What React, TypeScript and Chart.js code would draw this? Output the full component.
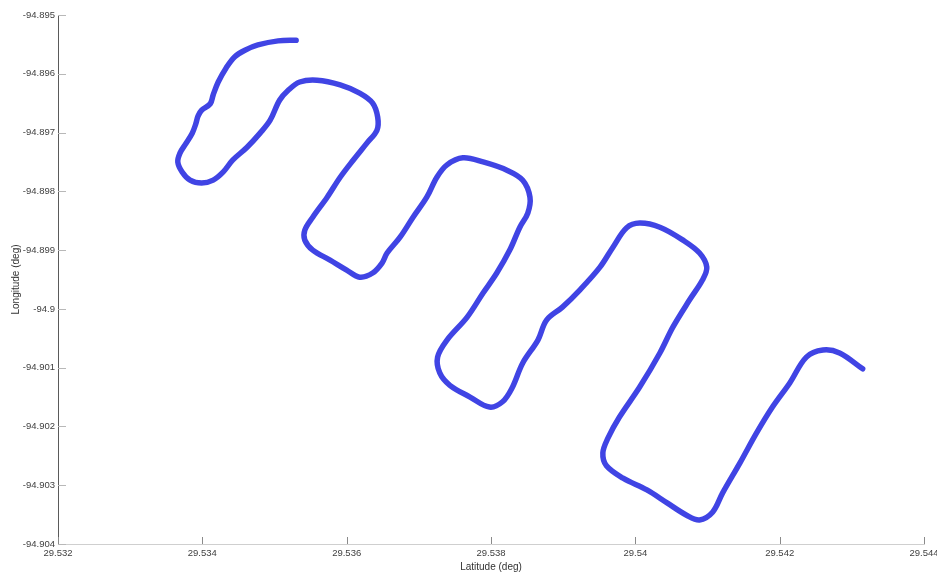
import React, { useEffect, useRef } from "react";
import { Chart, registerables } from "chart.js";

Chart.register(...registerables);

// GPS track: latitude / longitude pairs (degrees)
const latitude: number[] = [
  29.5353, 29.53505, 29.53477, 29.53459, 29.53445, 29.53433, 29.53422, 29.53415,
  29.53411, 29.53399, 29.53394, 29.53391, 29.53386, 29.53376, 29.53369, 29.53366,
  29.53372, 29.53383, 29.53399, 29.53415, 29.53429, 29.53442, 29.53462, 29.5348,
  29.53494, 29.53507, 29.53519, 29.53535, 29.53559, 29.53591, 29.53618, 29.53636,
  29.53643, 29.53642, 29.53628, 29.53609, 29.53591, 29.53573, 29.53553, 29.53542,
  29.53542, 29.53553, 29.53577, 29.536, 29.53618, 29.53636, 29.53649, 29.53656,
  29.53674, 29.53692, 29.53711, 29.53725, 29.53739, 29.53761, 29.53789, 29.53822,
  29.53844, 29.53854, 29.53851, 29.5384, 29.53826, 29.53808, 29.53789, 29.53767,
  29.53739, 29.53726, 29.53729, 29.53743, 29.53771, 29.53798, 29.53816, 29.53829,
  29.53844, 29.53865, 29.53877, 29.53899, 29.53923, 29.53951, 29.53969, 29.53988,
  29.54006, 29.54034, 29.54066, 29.54089, 29.54099, 29.54093, 29.54075, 29.54052,
  29.54034, 29.54006, 29.53978, 29.53962, 29.53955, 29.5396, 29.53983, 29.54016,
  29.54044, 29.54071, 29.54089, 29.54107, 29.54121, 29.54145, 29.54168, 29.5419,
  29.54214, 29.54237, 29.5426, 29.54283, 29.54315,
];

const longitude: number[] = [
  -94.89543, -94.89544, -94.89551, -94.8956, -94.89571, -94.8959, -94.89614, -94.89636,
  -94.89651, -94.89662, -94.89672, -94.89685, -94.89701, -94.89721, -94.89735, -94.8975,
  -94.89767, -94.89781, -94.89786, -94.89781, -94.89767, -94.89747, -94.89725, -94.89701,
  -94.89679, -94.89645, -94.89628, -94.89614, -94.89611, -94.89619, -94.89633, -94.8965,
  -94.89674, -94.89696, -94.89718, -94.89747, -94.89776, -94.8981, -94.89844, -94.89866,
  -94.89883, -94.899, -94.89917, -94.89934, -94.89946, -94.89939, -94.89922, -94.89905,
  -94.89878, -94.89844, -94.8981, -94.89776, -94.89755, -94.89743, -94.8975, -94.89764,
  -94.89781, -94.8981, -94.89837, -94.89861, -94.899, -94.89939, -94.89973, -94.90014,
  -94.90053, -94.90082, -94.90109, -94.9013, -94.9015, -94.90167, -94.90158, -94.90135,
  -94.90092, -94.90053, -94.90019, -94.89997, -94.89968, -94.89929, -94.89895, -94.89862,
  -94.89854, -94.89861, -94.89883, -94.89905, -94.89929, -94.89951, -94.89985, -94.90031,
  -94.90075, -94.90133, -94.90184, -94.9022, -94.90245, -94.90267, -94.90288, -94.90308,
  -94.9033, -94.90351, -94.90359, -94.90346, -94.90313, -94.90262, -94.90211, -94.90167,
  -94.90126, -94.90082, -94.9007, -94.90075, -94.90102,
];

const xTickRange = { min: 29.532, max: 29.544, step: 0.002 };
const yTickRange = { min: -94.904, max: -94.895, step: 0.001 };

const xTitle = "Latitude (deg)";
const yTitle = "Longitude (deg)";

const FONT = "'Liberation Sans', Arial, Helvetica, sans-serif";

const trimNumber = (v: number | string) => String(Number(Number(v).toFixed(6)));

// Tick marks drawn inward from the axis lines
const inwardTicks = {
  id: "inwardTicks",
  afterDraw(chart: any) {
    const { ctx, chartArea, scales } = chart;
    ctx.save();
    ctx.lineWidth = 1;
    ctx.strokeStyle = "#b8b8b8";
    scales.y.ticks.forEach((t: any) => {
      const py = Math.round(scales.y.getPixelForValue(t.value)) + 0.5;
      ctx.beginPath();
      ctx.moveTo(chartArea.left, py);
      ctx.lineTo(chartArea.left + 8, py);
      ctx.stroke();
    });
    ctx.strokeStyle = "#8a8a8a";
    scales.x.ticks.forEach((t: any) => {
      const px = Math.round(scales.x.getPixelForValue(t.value)) + 0.5;
      ctx.beginPath();
      ctx.moveTo(px, chartArea.bottom);
      ctx.lineTo(px, chartArea.bottom - 7);
      ctx.stroke();
    });
    ctx.restore();
  },
};

export default function App() {
  const canvasRef = useRef<HTMLCanvasElement | null>(null);

  useEffect(() => {
    if (!canvasRef.current) return;
    const points = latitude.map((x, i) => ({ x, y: longitude[i] }));
    const chart = new Chart(canvasRef.current, {
      type: "scatter",
      data: {
        datasets: [
          {
            data: points,
            showLine: true,
            borderColor: "rgb(64, 68, 228)",
            borderWidth: 5.5,
            borderCapStyle: "round",
            borderJoinStyle: "round",
            pointRadius: 0,
            pointHoverRadius: 0,
            tension: 0.35,
            fill: false,
          },
        ],
      },
      options: {
        responsive: false,
        animation: false,
        events: [],
        layout: { padding: { top: 15, right: 13, left: 0, bottom: 0 } },
        plugins: { legend: { display: false }, tooltip: { enabled: false } },
        scales: {
          x: {
            type: "linear",
            min: xTickRange.min,
            max: xTickRange.max,
            afterFit: (s: any) => {
              s.height = 29;
              s.paddingLeft = 0;
              s.paddingRight = 0;
            },
            afterBuildTicks: (s: any) => {
              const ticks = [];
              for (let i = 0; i <= 6; i++) {
                ticks.push({ value: Number((xTickRange.min + i * xTickRange.step).toFixed(6)) });
              }
              s.ticks = ticks;
            },
            grid: { display: true, drawOnChartArea: false, drawTicks: false },
            border: { display: true, color: "#cfcfcf", width: 1 },
            ticks: {
              padding: 4,
              maxRotation: 0,
              autoSkip: false,
              color: "#404040",
              font: { family: FONT, size: 9.5 },
              callback: (v: any) => trimNumber(v),
            },
            title: {
              display: true,
              text: xTitle,
              color: "#333",
              padding: { top: 0, bottom: 0 },
              font: { family: FONT, size: 10 },
            },
          },
          y: {
            type: "linear",
            min: yTickRange.min,
            max: yTickRange.max,
            afterFit: (s: any) => {
              s.width = 58;
              s.paddingTop = 0;
              s.paddingBottom = 0;
            },
            afterBuildTicks: (s: any) => {
              const ticks = [];
              for (let i = 0; i <= 9; i++) {
                ticks.push({ value: Number((yTickRange.min + i * yTickRange.step).toFixed(6)) });
              }
              s.ticks = ticks;
            },
            grid: { display: true, drawOnChartArea: false, drawTicks: false },
            border: { display: true, color: "#5a5a5a", width: 1 },
            ticks: {
              padding: 3,
              autoSkip: false,
              color: "#404040",
              font: { family: FONT, size: 9.5 },
              callback: (v: any) => trimNumber(v),
            },
            title: {
              display: true,
              text: yTitle,
              color: "#333",
              padding: { top: 10, bottom: 0 },
              font: { family: FONT, size: 10 },
            },
          },
        },
      },
      plugins: [inwardTicks],
    } as any);
    return () => chart.destroy();
  }, []);

  return (
    <div
      style={{
        position: "fixed",
        left: 0,
        top: 0,
        width: 937,
        height: 573,
        background: "#ffffff",
      }}
    >
      <canvas ref={canvasRef} width={937} height={573} />
    </div>
  );
}
